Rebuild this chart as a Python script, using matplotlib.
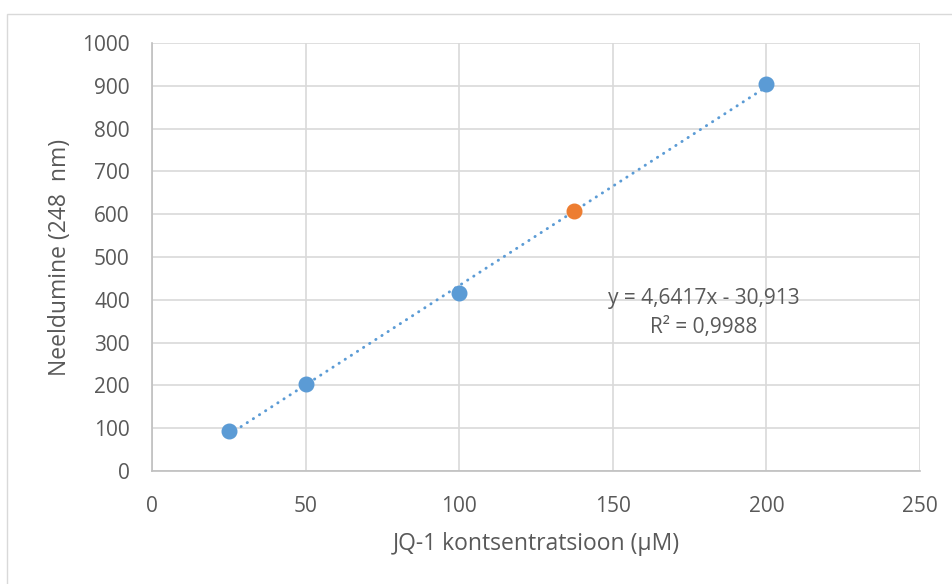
import numpy as np
import matplotlib.pyplot as plt
from matplotlib.patches import Rectangle

plt.rcParams['font.family'] = ['Open Sans', 'DejaVu Sans']
plt.rcParams['font.size'] = 15
plt.rcParams['text.color'] = '#595959'
plt.rcParams['axes.labelcolor'] = '#595959'
plt.rcParams['xtick.color'] = '#595959'
plt.rcParams['ytick.color'] = '#595959'

# calibration points (blue) and the unknown sample (orange)
conc = [25, 50, 100, 200]
absorb = [93.5, 203, 416, 904]
sample_conc = [137.4]
sample_abs = [607]

# trendline from the fitted equation
slope = 4.6417
intercept = -30.913
r2 = 0.9988

x_ticks = [0, 50, 100, 150, 200, 250]
y_ticks = [0, 100, 200, 300, 400, 500, 600, 700, 800, 900, 1000]

fig = plt.figure(figsize=(9.52, 5.84), dpi=100)
ax = fig.add_axes([152/952, 1 - 471/584, 768/952, 428/584])

# chart area border
fig.patches.append(Rectangle((7/952, -0.05), 1.0, 1 - 14/584 + 0.05,
                             transform=fig.transFigure, fill=False,
                             edgecolor='#D9D9D9', linewidth=1))

xl = np.array([conc[0], conc[-1]])
ax.plot(xl, slope * xl + intercept, color='#5B9BD5', linewidth=2.1,
        linestyle=(0, (0.1, 2.4)), dash_capstyle='round', zorder=3)
ax.plot(conc, absorb, 'o', color='#5B9BD5', markersize=10.5, zorder=4)
ax.plot(sample_conc, sample_abs, 'o', color='#ED7D31', markersize=10.5, zorder=4)

ax.text(179.5, 404, 'y = %sx - %s' % (str(slope).replace('.', ','),
                                        str(-intercept).replace('.', ',')),
        ha='center', va='center', fontsize=15)
ax.text(179.5, 336, 'R² = %s' % str(r2).replace('.', ','),
        ha='center', va='center', fontsize=15)

ax.set_xlim(0, 250)
ax.set_ylim(0, 1000)
ax.set_xticks(x_ticks)
ax.set_yticks(y_ticks)
ax.grid(True, color='#D9D9D9', linewidth=1.2)
ax.set_axisbelow(True)
ax.tick_params(length=0)
ax.tick_params(axis='x', pad=18)
ax.tick_params(axis='y', pad=16)
for s in ['top', 'right']:
    ax.spines[s].set_visible(False)
for s in ['left', 'bottom']:
    ax.spines[s].set_color('#BFBFBF')
    ax.spines[s].set_linewidth(1.2)

ax.set_xlabel('JQ-1 kontsentratsioon (µM)', fontsize=16.5, labelpad=11)
ax.set_ylabel('Neeldumine (248  nm)', fontsize=16.5, labelpad=7)

fig.savefig('out.png', dpi=100)
